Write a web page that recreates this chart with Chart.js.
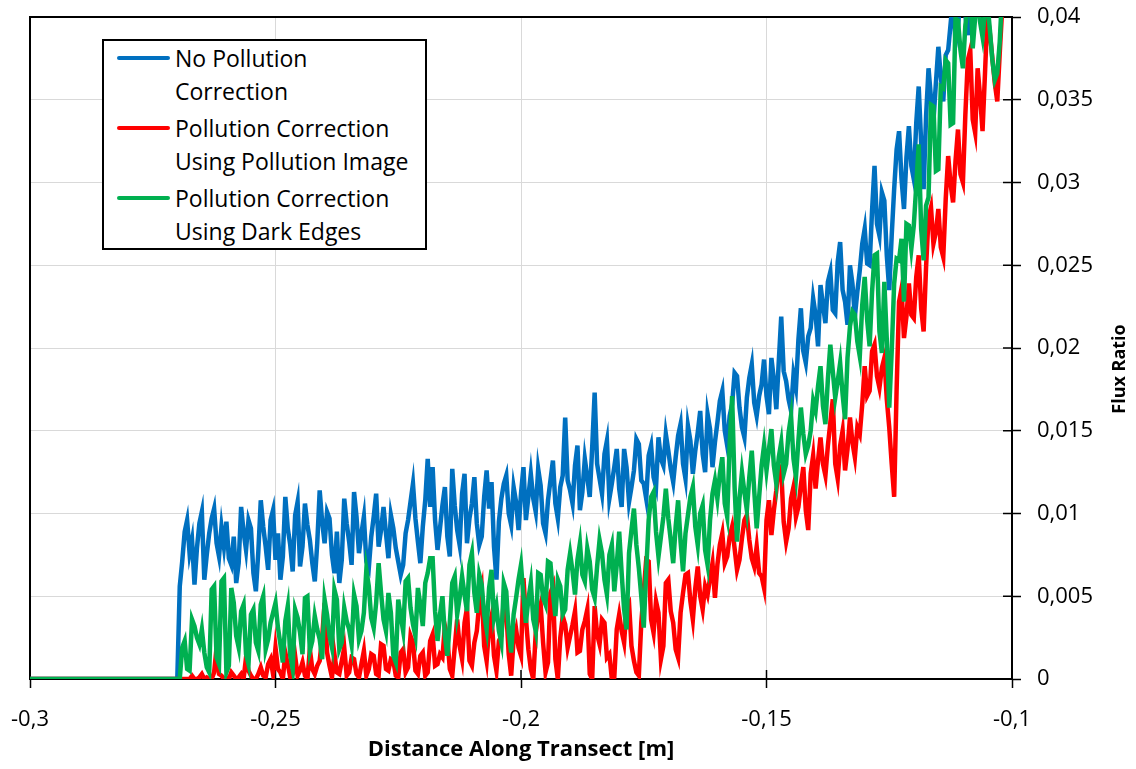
<!DOCTYPE html>
<html>
<head>
<meta charset="utf-8">
<script src="https://cdn.jsdelivr.net/npm/chart.js@4.4.0/dist/chart.umd.min.js"></script>
<style>
  html, body { margin: 0; padding: 0; background: #fff; }
  #wrap { position: relative; width: 1136px; height: 769px; }
  #legend {
    position: absolute; left: 102px; top: 39px; width: 325px; height: 211px;
    box-sizing: border-box; border: 2px solid #000; background: #fff;
    font-family: "Open Sans", sans-serif; font-size: 23px; color: #000;
  }
  #legend .item { position: absolute; left: 0; width: 100%; }
  #legend .swatch { position: absolute; left: 13px; top: 14px; width: 53px; height: 4px; border-radius: 2px; }
  #legend .txt { position: absolute; left: 71px; top: 0; line-height: 32.5px; white-space: nowrap; }
</style>
</head>
<body>
<div id="wrap">
  <canvas id="chart" width="1136" height="769"></canvas>
  <div id="legend"></div>
</div>
<script>
// sample grid along the transect [m]
const xStart = -0.270;
const xStep = 0.0005;
const baselineStart = -0.3;

// flux ratio values in units of 1e-3, one per sample (rows of 0.01 m)
const noCorrection = [
  0, 5.6, 7.1, 8.9, 9.6, 7.6, 8.4, 5.7, 7.9, 9.4, 10.1, 6.0, 7.5, 8.8, 9.7, 10.3, 8.2, 7.4, 9.2, 8.0,
  9.5, 7.3, 6.9, 8.6, 5.8, 7.0, 10.4, 8.9, 7.8, 9.6, 9.1, 6.4, 5.3, 7.7, 10.8, 9.2, 8.0, 6.6, 9.6, 10.2,
  7.2, 8.8, 6.0, 7.4, 11.0, 9.1, 8.1, 6.5, 9.9, 10.7, 6.8, 8.0, 10.6, 9.3, 8.4, 7.0, 5.9, 8.2, 11.4, 9.5,
  8.2, 10.1, 9.7, 7.5, 6.4, 8.9, 5.8, 7.2, 10.9, 9.4, 8.3, 6.9, 11.3, 9.8, 7.6, 8.8, 9.8, 7.1, 6.7, 8.6,
  9.8, 11.2, 8.0, 9.0, 10.4, 8.8, 7.3, 9.9, 9.1, 7.9, 7.1, 6.3, 6.9, 8.8, 9.6, 10.7, 11.8, 9.7, 8.3, 7.0,
  9.2, 10.8, 13.3, 10.4, 12.8, 9.6, 7.8, 9.1, 10.5, 11.6, 8.6, 7.4, 12.7, 10.5, 9.0, 8.1, 11.2, 12.4, 8.2, 9.7,
  10.6, 12.2, 9.4, 8.1, 8.6, 11.0, 12.6, 10.3, 11.9, 8.0, 6.0, 9.5, 10.9, 11.8, 12.3, 10.0, 9.3, 11.6, 10.7, 9.0,
  11.2, 12.8, 9.6, 11.0, 12.4, 10.9, 10.1, 12.7, 11.7, 9.4, 8.8, 10.8, 12.0, 13.2, 10.6, 9.7, 11.6, 12.3, 15.8, 12.0,
  11.4, 10.6, 12.9, 14.1, 10.2, 11.3, 13.3, 12.2, 11.0, 14.0, 17.3, 13.0, 12.1, 11.2, 13.6, 14.4, 10.9, 11.8, 12.8, 13.9,
  11.5, 10.4, 13.9, 12.8, 10.7, 11.6, 12.6, 14.5, 14.2, 12.0, 11.8, 10.9, 13.5, 14.1, 12.2, 11.6, 14.6, 13.3, 12.9, 14.8,
  13.8, 12.7, 11.9, 13.4, 14.7, 15.4, 13.0, 12.1, 15.3, 14.4, 12.4, 13.8, 14.9, 16.2, 13.6, 12.5, 16.0, 15.1, 12.8, 14.3,
  15.5, 16.8, 17.4, 15.0, 14.1, 15.9, 16.6, 18.5, 18.3, 16.4, 15.2, 14.6, 17.0, 18.2, 19.0, 16.7, 15.9, 17.1, 17.8, 19.3,
  17.1, 16.0, 19.4, 18.1, 16.3, 19.2, 21.9, 18.6, 18.0, 16.9, 16.2, 18.4, 17.6, 20.5, 22.4, 19.8, 19.1, 20.7, 21.2, 23.0,
  22.0, 20.1, 23.8, 22.6, 21.5, 24.0, 24.6, 22.3, 22.1, 25.2, 26.4, 23.5, 22.8, 21.4, 25.0, 23.9, 21.9, 23.4, 24.7, 26.3,
  27.2, 25.1, 25.0, 28.3, 31.0, 27.5, 26.8, 29.4, 28.9, 25.6, 23.5, 26.8, 29.6, 32.0, 33.1, 30.2, 28.4, 31.5, 33.4, 31.0,
  30.2, 33.6, 35.8, 32.4, 29.6, 34.0, 36.9, 35.1, 33.7, 36.0, 38.2, 36.4, 34.9, 37.7, 38.0, 39.6, 41.2, 38.4, 39.3, 41.5,
  42.0, 40.1, 38.9, 41.6, 43.1, 41.9, 40.6, 42.8, 44.0, 43.0, 41.2, 43.6, 44.8, 43.4, 42.7, 44.1, 45.0
];
const pollutionImage = [
  0, 0, 0, 0, 0, 0, 0.2, 0, 0, 0.1, 0.3, 0, 0.1, 0, 0, 0.4, 1.9, 0.3, 0.2, 0,
  0.1, 0, 0.4, 0.2, 0, 0.1, 0.3, 0, 1.3, 0.5, 0.2, 0, 0, 0.3, 0.7, 0.2, 0.1, 0.9, 1.2, 0.3,
  1.9, 0.6, 0.4, 0, 1.6, 0.9, 0.1, 0.3, 1.4, 0.2, 0.5, 1.0, 0.2, 0, 1.8, 0.6, 0.3, 0.8, 1.1, 2.5,
  4.6, 1.6, 0.8, 0.1, 1.5, 0.4, 0.3, 1.1, 1.9, 0.2, 0.4, 1.3, 1.2, 0.3, 0.1, 0.9, 1.7, 0.2, 0.6, 1.5,
  1.4, 0.3, 0.2, 2.1, 2.0, 0.6, 0.5, 1.2, 1.1, 0.2, 0.1, 1.6, 1.8, 0.4, 0.7, 2.6, 2.2, 0.5, 0.3, 1.4,
  1.6, 0.2, 0.4, 2.3, 2.7, 0.8, 0.9, 1.5, 1.3, 3.2, 2.5, 0.6, 0.2, 1.9, 3.6, 2.0, 1.2, 3.4, 4.3, 1.1,
  0.8, 2.2, 2.9, 4.6, 5.4, 2.0, 1.1, 3.1, 3.8, 1.4, 0.5, 2.3, 2.6, 4.8, 4.1, 1.5, 0.2, 2.4, 3.0, 1.9,
  1.4, 6.1, 3.7, 1.8, 0.6, 0, 2.8, 3.9, 4.5, 2.2, 0.4, 1.0, 5.2, 5.6, 1.2, 0, 2.5, 3.8, 3.3, 1.9,
  2.6, 3.3, 4.1, 1.6, 1.7, 3.0, 3.5, 4.2, 0.3, 0, 4.4, 2.7, 2.1, 3.6, 3.4, 1.3, 1.5, 0, 0.1, 3.0,
  3.9, 2.9, 2.2, 4.4, 4.6, 2.0, 1.1, 0.4, 0.2, 3.4, 5.3, 7.2, 7.1, 3.6, 2.8, 4.7, 4.0, 1.2, 2.0, 5.8,
  6.0, 4.1, 3.4, 1.8, 1.3, 4.0, 5.2, 6.3, 6.4, 4.7, 3.6, 5.5, 6.8, 5.0, 4.2, 5.6, 5.1, 6.1, 7.0, 4.9,
  6.9, 8.1, 8.8, 7.0, 7.4, 8.6, 9.2, 7.9, 6.6, 7.2, 8.5, 9.6, 9.9, 8.4, 7.3, 6.8, 8.0, 6.4, 6.2, 5.5,
  9.6, 10.8, 8.7, 10.2, 11.4, 12.9, 12.6, 9.5, 8.3, 9.1, 10.9, 11.6, 9.8, 10.4, 11.7, 12.8, 10.2, 9.0, 12.4, 13.5,
  11.5, 13.2, 14.6, 13.0, 12.3, 14.1, 15.5, 16.9, 13.0, 12.1, 14.1, 15.0, 12.6, 13.9, 15.8, 14.3, 13.4, 15.2, 14.8, 16.6,
  18.9, 17.1, 17.4, 19.8, 20.2, 18.3, 17.6, 18.8, 19.4, 16.9, 15.2, 13.0, 11.0, 17.5, 22.8, 23.6, 20.6, 21.9, 23.9, 22.0,
  21.8, 24.3, 25.6, 22.4, 21.0, 24.9, 27.9, 28.5, 26.3, 27.0, 28.4, 26.1, 25.5, 29.0, 31.6, 29.9, 28.8, 31.3, 33.2, 30.5,
  30.0, 34.1, 37.4, 38.0, 33.8, 33.0, 36.9, 35.2, 33.1, 36.6, 40.2, 39.0, 37.5, 36.0, 34.9, 37.8, 40.5
];
const darkEdges = [
  0, 0, 1.9, 2.3, 0.6, 0.5, 3.6, 3.2, 2.5, 2.1, 3.0, 1.6, 0.7, 0.4, 5.4, 5.6, 1.3, 0.9, 5.9, 6.1,
  0.4, 0.8, 5.5, 4.6, 2.6, 1.9, 4.1, 4.5, 1.5, 0.9, 3.9, 4.2, 2.2, 1.7, 4.5, 5.0, 1.8, 2.4, 3.4, 4.0,
  4.6, 3.1, 2.1, 1.0, 3.5, 4.4, 1.4, 0.6, 4.2, 3.7, 2.8, 1.5, 4.9, 5.0, 1.7, 2.3, 3.8, 3.0, 2.4, 1.2,
  4.8, 3.9, 2.6, 1.9, 5.4, 4.8, 1.8, 2.2, 4.3, 3.5, 3.0, 2.1, 5.1, 4.4, 2.4, 2.9, 4.0, 6.6, 5.6, 3.7,
  3.1, 4.6, 7.0, 5.2, 3.6, 2.9, 5.2, 4.0, 1.4, 1.0, 4.8, 3.8, 2.9, 5.9, 6.1, 4.3, 3.3, 2.6, 5.5, 4.5,
  3.2, 5.8, 6.4, 7.3, 7.3, 4.1, 2.3, 3.9, 5.0, 2.6, 1.4, 3.4, 5.8, 6.2, 3.9, 4.9, 6.2, 5.1, 4.1, 6.9,
  7.6, 5.2, 4.0, 6.3, 5.7, 3.9, 3.0, 5.5, 6.6, 3.7, 4.4, 2.9, 2.2, 5.8, 5.3, 2.8, 1.6, 3.9, 4.9, 6.0,
  6.9, 5.0, 3.4, 4.8, 5.8, 3.6, 2.9, 6.4, 6.3, 4.9, 4.5, 7.1, 7.0, 5.2, 3.8, 6.0, 5.6, 3.9, 4.2, 6.6,
  7.6, 6.5, 5.1, 7.2, 8.2, 6.3, 5.9, 7.9, 7.1, 5.4, 4.9, 6.8, 8.4, 7.6, 6.0, 5.1, 7.5, 8.1, 5.3, 6.9,
  8.9, 6.4, 4.2, 3.0, 7.6, 9.0, 10.3, 8.1, 6.7, 5.0, 3.1, 6.5, 9.6, 11.0, 11.3, 8.9, 7.4, 8.6, 9.8, 11.5,
  9.7, 8.4, 7.0, 9.2, 10.8, 8.3, 6.5, 8.8, 9.9, 11.0, 11.6, 9.2, 8.1, 10.0, 10.5, 7.8, 6.9, 9.6, 11.2, 12.0,
  10.9, 12.4, 13.4, 10.6, 9.8, 14.2, 17.1, 11.6, 8.3, 10.9, 12.5, 11.3, 10.2, 12.2, 13.8, 11.4, 9.1, 11.0, 12.9, 14.1,
  12.6, 13.9, 15.1, 12.9, 11.8, 13.4, 14.3, 12.4, 13.0, 14.9, 15.9, 13.3, 12.2, 14.4, 16.4, 14.8, 13.6, 14.1, 15.0, 16.8,
  16.2, 17.7, 18.9, 16.5, 15.4, 18.1, 20.2, 18.6, 17.0, 18.0, 19.1, 17.2, 15.7, 19.4, 21.3, 22.2, 22.0, 20.4, 19.5, 22.6,
  24.3, 21.7, 20.1, 23.4, 25.6, 25.7, 21.0, 19.7, 24.0, 20.5, 16.4, 19.8, 23.9, 25.4, 25.3, 26.6, 22.8, 27.5, 27.4, 26.0,
  27.4, 29.8, 32.3, 27.2, 25.3, 28.6, 29.1, 34.7, 34.6, 30.7, 30.8, 35.8, 35.7, 37.4, 37.2, 33.5, 33.6, 39.9, 39.8, 38.0,
  36.9, 39.5, 40.6, 41.8, 38.1, 40.0, 41.2, 39.7, 38.8, 40.4, 40.9, 39.2, 37.4, 36.2, 36.6, 38.5, 41.5
];

const seriesNames = [
  ['No Pollution', 'Correction'],
  ['Pollution Correction', 'Using Pollution Image'],
  ['Pollution Correction', 'Using Dark Edges']
];
const seriesColors = ['#0070C0', '#FF0000', '#00B050'];

const FONT = '"Open Sans", sans-serif';

function toPoints(vals) {
  const pts = [{ x: baselineStart, y: 0 }];
  vals.forEach((v, i) => {
    pts.push({ x: +(xStart + i * xStep).toFixed(4), y: v / 1000 });
  });
  return pts;
}

function fmt(v) {
  return String(Math.round(v * 10000) / 10000).replace('.', ',');
}

// html legend (entries wrap on two lines like the original)
const legendEl = document.getElementById('legend');
seriesNames.forEach((lines, idx) => {
  const item = document.createElement('div');
  item.className = 'item';
  item.style.top = (1 + idx * 70) + 'px';
  const sw = document.createElement('span');
  sw.className = 'swatch';
  sw.style.background = seriesColors[idx];
  const txt = document.createElement('span');
  txt.className = 'txt';
  txt.innerHTML = lines.join('<br>');
  item.appendChild(sw);
  item.appendChild(txt);
  legendEl.appendChild(item);
});

const framePlugin = {
  id: 'frame',
  beforeDatasetsDraw(chart) {
    const { ctx, chartArea: a, scales } = chart;
    ctx.save();
    ctx.strokeStyle = '#000';
    ctx.lineWidth = 2;
    ctx.strokeRect(a.left, a.top, a.right - a.left, a.bottom - a.top);
    // inner half of the cross tick marks
    ctx.lineWidth = 1.5;
    ctx.beginPath();
    scales.x.ticks.forEach(t => {
      const px = scales.x.getPixelForValue(t.value);
      ctx.moveTo(px, a.bottom);
      ctx.lineTo(px, a.bottom - 9);
    });
    scales.y.ticks.forEach(t => {
      const py = scales.y.getPixelForValue(t.value);
      ctx.moveTo(a.right, py);
      ctx.lineTo(a.right - 9, py);
    });
    ctx.stroke();
    ctx.restore();
  },
  afterDraw(chart) {
    const { ctx } = chart;
    ctx.save();
    ctx.translate(1120, 369);
    ctx.rotate(-Math.PI / 2);
    ctx.font = 'bold 18px ' + FONT;
    ctx.fillStyle = '#000';
    ctx.textAlign = 'center';
    ctx.textBaseline = 'middle';
    ctx.fillText('Flux Ratio', 0, 0);
    ctx.restore();
  }
};

const datasets = [noCorrection, pollutionImage, darkEdges].map((vals, idx) => ({
  label: seriesNames[idx].join(' '),
  data: toPoints(vals),
  borderColor: seriesColors[idx],
  backgroundColor: seriesColors[idx],
  borderWidth: 4.5,
  pointRadius: 0,
  tension: 0,
  order: 2 - idx
}));

new Chart(document.getElementById('chart'), {
  type: 'line',
  data: { datasets },
  plugins: [framePlugin],
  options: {
    responsive: false,
    animation: false,
    devicePixelRatio: 1,
    layout: { padding: { left: 30, top: 17, right: 0, bottom: 0 } },
    plugins: { legend: { display: false }, tooltip: { enabled: false } },
    scales: {
      x: {
        type: 'linear',
        min: -0.3,
        max: -0.1,
        afterFit: s => { s.height = 90; s.paddingLeft = 0; s.paddingRight = 0; },
        grid: { color: '#D9D9D9', lineWidth: 1, tickColor: '#000', tickLength: 9, tickWidth: 1.5 },
        border: { display: false },
        ticks: {
          stepSize: 0.05,
          padding: 19,
          maxRotation: 0,
          autoSkip: false,
          color: '#000',
          font: { family: FONT, size: 22 },
          callback: v => fmt(v)
        },
        title: {
          display: true,
          text: 'Distance Along Transect [m]',
          color: '#000',
          font: { family: FONT, size: 22, weight: 'bold' },
          padding: { top: 0, bottom: 6 }
        }
      },
      y: {
        position: 'right',
        min: 0,
        max: 0.04,
        afterFit: s => { s.width = 124; s.paddingTop = 0; s.paddingBottom = 0; },
        grid: { color: '#D9D9D9', lineWidth: 1, tickColor: '#000', tickLength: 9, tickWidth: 1.5 },
        border: { display: false },
        ticks: {
          stepSize: 0.005,
          padding: 16,
          autoSkip: false,
          color: '#000',
          font: { family: FONT, size: 22 },
          callback: v => fmt(v)
        }
      }
    }
  }
});
</script>
</body>
</html>
